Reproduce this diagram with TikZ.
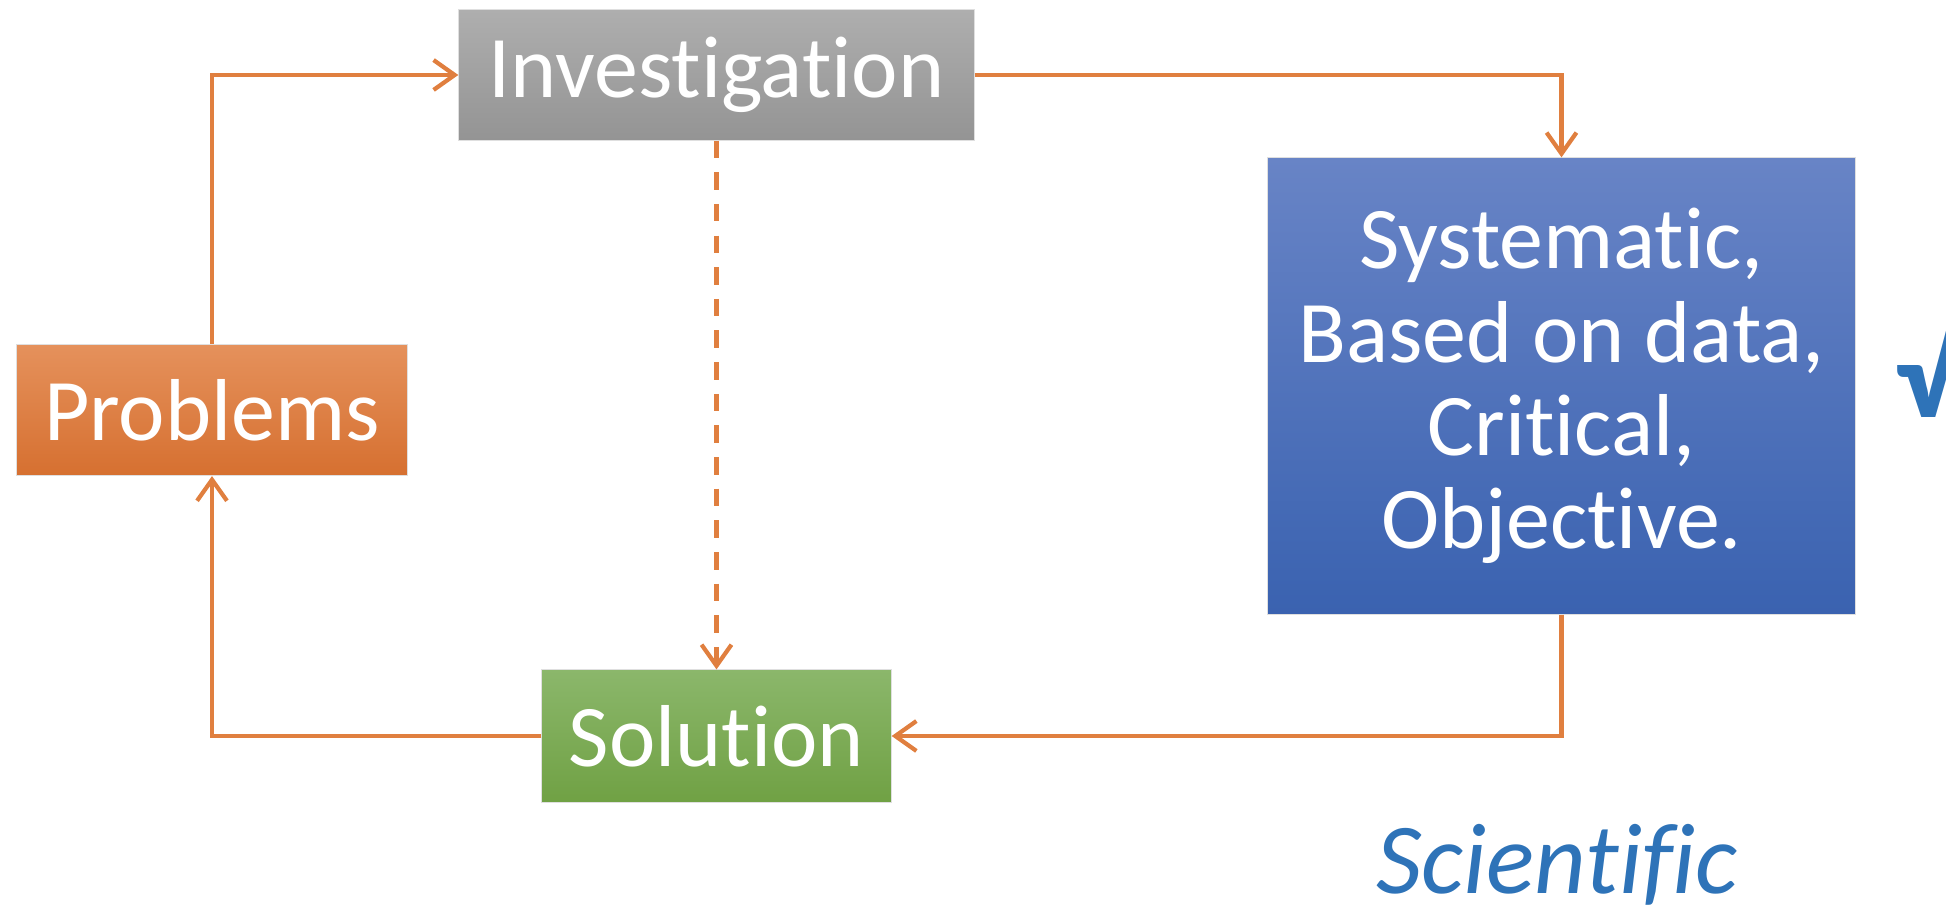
\documentclass[tikz,border=0pt]{standalone}
\usepackage{fontspec}
\setmainfont{Carlito}[RawFeature={-liga}]
\usetikzlibrary{arrows.meta}
\definecolor{lineorange}{HTML}{E07F3F}
\definecolor{textblue}{HTML}{2E73B8}
\begin{document}
\begin{tikzpicture}[x=0.01cm,y=-0.01cm,
	box/.style={rectangle, draw=white!75!gray, line width=0.3pt, text=white, inner sep=0pt, align=center, font=\fontsize{25}{26.5}\selectfont},
	flow/.style={draw=lineorange, line width=1.2pt, -{Straight Barb[length=6pt,width=8.5pt]}}]
	\useasboundingbox (0,0) rectangle (1946,910);
	% the four boxes
	\node[box, top color={rgb,255:red,229;green,145;blue,92}, bottom color={rgb,255:red,214;green,112;blue,48}, minimum width=3.91cm, minimum height=1.31cm] (problems) at (212,410) {Problems};
	\node[box, top color={rgb,255:red,174;green,174;blue,174}, bottom color={rgb,255:red,148;green,148;blue,148}, minimum width=5.15cm, minimum height=1.30cm] (investigation) at (716.5,75) {Investigation};
	\node[box, top color={rgb,255:red,104;green,132;blue,198}, bottom color={rgb,255:red,58;green,98;blue,176}, minimum width=5.87cm, minimum height=4.56cm] (traits) at (1561.5,386) {Systematic,\\Based on data,\\Critical,\\Objective.};
	\node[box, top color={rgb,255:red,139;green,183;blue,107}, bottom color={rgb,255:red,112;green,161;blue,68}, minimum width=3.49cm, minimum height=1.32cm] (solution) at (716.5,736) {Solution};
	% labels
	\node[text=textblue, font=\fontsize{28.6}{30}\selectfont\itshape, anchor=base] (scientific) at (1557,893) {Scientific};
	\node[text=textblue, font=\fontsize{38}{38}\selectfont\bfseries, anchor=west, inner sep=0pt] (tick) at (1894,364) {√};
	% connectors
	\draw[flow] (problems.north) |- (investigation.west);
	\draw[flow] (investigation.east) -| (traits.north);
	\draw[flow] (traits.south) |- (solution.east);
	\draw[flow] (solution.west) -| (problems.south);
	\draw[flow, dash pattern=on 5pt off 4pt] (investigation.south) -- (solution.north);
\end{tikzpicture}
\end{document}
